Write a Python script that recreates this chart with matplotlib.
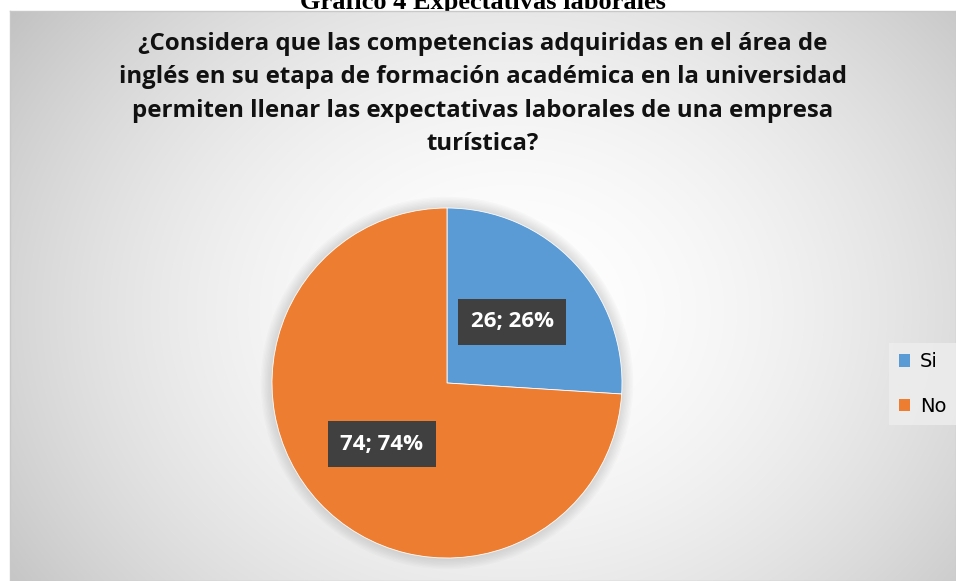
import numpy as np
import matplotlib.pyplot as plt
from matplotlib.patches import Rectangle, Circle

labels = ['Si', 'No']
values = [26, 74]
colors = ['#5B9BD5', '#ED7D31']
title = ('¿Considera que las competencias adquiridas en el área de\n'
         'inglés en su etapa de formación académica en la universidad\n'
         'permiten llenar las expectativas laborales de una empresa\n'
         'turística?')
caption = 'Gráfico 4 Expectativas laborales'

W, H = 956, 581
fig = plt.figure(figsize=(W / 100, H / 100), dpi=100)
fig.patch.set_facecolor('white')

# chart area background: radial gradient, white in middle, grey at edges
bg = fig.add_axes([10 / W, 0, 1 - 10 / W, (H - 11) / H], zorder=1)
yy, xx = np.mgrid[0:570, 0:946]
d = np.sqrt(((xx - 500) / 560) ** 2 + ((yy - 300) / 460) ** 2)
shade = 1.0 - 0.2 * np.clip(d, 0, 1.3) ** 1.8
bg.imshow(np.dstack([shade] * 3), aspect='auto', extent=[0, 1, 0, 1],
          interpolation='bilinear')
bg.set_xlim(0, 1)
bg.set_ylim(0, 1)
bg.set_xticks([])
bg.set_yticks([])
for s in bg.spines.values():
    s.set_edgecolor('#c8c8c8')
    s.set_linewidth(1)

# caption of the page, cut off by the chart frame (as in the source)
fig.text(483 / W, 1 - 2 / H, caption, ha='center', va='center',
         fontsize=19, fontweight='bold', family='Liberation Serif', zorder=0.5)

fig.text(483 / W, 1 - 94 / H, title, ha='center', va='center',
         fontsize=17.3, fontweight='bold', family='Open Sans',
         linespacing=1.52, color='#111111', zorder=5)

ax = fig.add_axes([(272 - 17.5) / W, (23 - 17.5) / H, 385 / W, 385 / H], zorder=2)
ax.set_facecolor('none')
# soft glow around the pie
for k in range(8):
    ax.add_patch(Circle((0, 0), 1.0 + 0.008 * (k + 1), facecolor='#888888',
                        alpha=0.035, edgecolor='none', zorder=0))
wedges, texts = ax.pie(values, colors=colors, startangle=90, counterclock=False,
                       radius=1.0, wedgeprops=dict(edgecolor='white', linewidth=0.6))
for w in wedges:
    w.set_zorder(2)
ax.set_xlim(-1.1, 1.1)
ax.set_ylim(-1.1, 1.1)
ax.set_aspect('equal')

# data labels
theta = 90.0
tot = sum(values)
for v, w in zip(values, wedges):
    mid = theta - v / tot * 360 / 2
    theta -= v / tot * 360
    r = 0.51
    x = r * np.cos(np.radians(mid))
    y = r * np.sin(np.radians(mid))
    ax.text(x, y, f'{v}; {v}%', ha='center', va='center', color='white',
            fontsize=16, fontweight='bold', family='Open Sans', zorder=4,
            bbox=dict(boxstyle='square,pad=0.55', facecolor='#404040',
                      edgecolor='none'))

handles = [Rectangle((0, 0), 1, 1, facecolor=c) for c in colors]
leg = fig.legend(handles, labels, loc='center left',
                 bbox_to_anchor=(889 / W, 1 - 384 / H), borderaxespad=0,
                 frameon=True, fancybox=False, fontsize=14, handlelength=0.6,
                 handleheight=0.6, handletextpad=0.5, labelspacing=1.3,
                 borderpad=0.5)
leg.get_frame().set_facecolor('#eeeeee')
leg.get_frame().set_edgecolor('none')
leg.get_frame().set_alpha(0.8)
leg.set_zorder(6)

fig.savefig('out.png', dpi=100)
